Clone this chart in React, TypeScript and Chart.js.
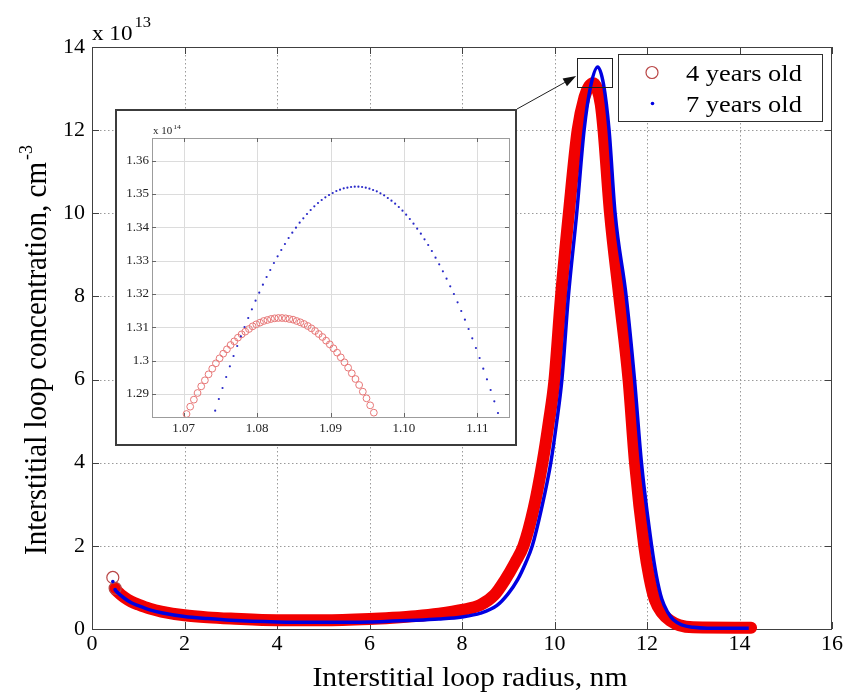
import React, { useEffect, useRef } from 'react';
import { Chart, registerables } from 'chart.js';
Chart.register(...registerables);

// ---------- data (main chart, concentration in units of 1e13 cm^-3) ----------
const xTicks = [0, 2, 4, 6, 8, 10, 12, 14, 16];
const yTicks = [0, 2, 4, 6, 8, 10, 12, 14];

const radius4 = [0.45, 0.50, 0.57, 0.70, 0.85, 1.00, 1.25, 1.50, 2.00, 2.50, 3.00, 4.00, 5.00, 6.00, 6.50, 7.00, 7.50, 8.00, 8.40, 8.70, 8.93, 9.15, 9.33, 9.55, 9.74, 9.88, 10.00, 10.14, 10.31, 10.50, 10.65, 10.75, 10.835, 10.92, 11.00, 11.06, 11.20, 11.40, 11.60, 11.74, 11.94, 12.05, 12.17, 12.33, 12.50, 12.70, 13.00, 14.25];
const conc4 = [1.24, 0.98, 0.88, 0.76, 0.66, 0.59, 0.49, 0.42, 0.33, 0.28, 0.25, 0.21, 0.21, 0.24, 0.27, 0.31, 0.37, 0.46, 0.58, 0.82, 1.18, 1.60, 2.00, 2.90, 4.00, 5.00, 6.00, 8.00, 10.00, 12.00, 12.80, 13.06, 13.13, 13.00, 12.62, 12.00, 10.00, 8.00, 6.00, 4.00, 2.00, 1.25, 0.70, 0.38, 0.20, 0.09, 0.04, 0.03];

const radius7 = [0.45, 0.50, 0.57, 0.70, 0.85, 1.00, 1.25, 1.50, 2.00, 2.50, 3.00, 4.00, 5.00, 6.00, 6.50, 7.00, 7.50, 8.00, 8.40, 8.75, 9.00, 9.20, 9.38, 9.52, 9.72, 9.92, 10.05, 10.16, 10.30, 10.48, 10.64, 10.78, 10.935, 11.06, 11.18, 11.31, 11.55, 11.73, 11.88, 12.10, 12.20, 12.32, 12.45, 12.57, 12.75, 13.00, 13.30, 14.20];
const conc7 = [1.14, 0.95, 0.86, 0.74, 0.63, 0.56, 0.46, 0.39, 0.30, 0.25, 0.21, 0.17, 0.16, 0.17, 0.19, 0.21, 0.24, 0.29, 0.38, 0.56, 0.85, 1.18, 1.60, 2.00, 2.90, 4.00, 5.00, 6.00, 8.00, 10.00, 12.00, 13.05, 13.52, 13.10, 12.00, 10.00, 8.00, 6.00, 4.00, 2.00, 1.30, 0.72, 0.40, 0.22, 0.10, 0.04, 0.02, 0.02];

// ---------- data (inset, radius x10 nm, concentration x1e14) ----------
const insetXTicks = [1.07, 1.08, 1.09, 1.10, 1.11];
const insetYTicks = [1.29, 1.30, 1.31, 1.32, 1.33, 1.34, 1.35, 1.36];

const insetX4 = [1.0704, 1.0709, 1.0714, 1.0719, 1.0724, 1.0729, 1.0734, 1.0739, 1.0744, 1.0749, 1.0754, 1.0759, 1.0764, 1.0769, 1.0774, 1.0779, 1.0784, 1.0789, 1.0794, 1.0799, 1.0804, 1.0809, 1.0814, 1.0819, 1.0824, 1.0829, 1.0834, 1.0839, 1.0844, 1.0849, 1.0854, 1.0859, 1.0864, 1.0869, 1.0874, 1.0879, 1.0884, 1.0889, 1.0894, 1.0899, 1.0904, 1.0909, 1.0914, 1.0919, 1.0924, 1.0929, 1.0934, 1.0939, 1.0944, 1.0949, 1.0954, 1.0959];
const insetY4 = [1.2840, 1.2862, 1.2883, 1.2903, 1.2923, 1.2941, 1.2959, 1.2976, 1.2992, 1.3007, 1.3021, 1.3034, 1.3047, 1.3058, 1.3069, 1.3079, 1.3087, 1.3095, 1.3103, 1.3109, 1.3114, 1.3119, 1.3122, 1.3125, 1.3127, 1.3128, 1.3128, 1.3127, 1.3125, 1.3123, 1.3119, 1.3115, 1.3110, 1.3104, 1.3097, 1.3089, 1.3080, 1.3071, 1.3060, 1.3049, 1.3037, 1.3024, 1.3010, 1.2995, 1.2979, 1.2962, 1.2945, 1.2927, 1.2907, 1.2887, 1.2866, 1.2844];

const insetX7 = [1.0743, 1.0748, 1.0753, 1.0758, 1.0763, 1.0768, 1.0773, 1.0778, 1.0783, 1.0788, 1.0793, 1.0798, 1.0803, 1.0808, 1.0813, 1.0818, 1.0823, 1.0828, 1.0833, 1.0838, 1.0843, 1.0848, 1.0853, 1.0858, 1.0863, 1.0868, 1.0873, 1.0878, 1.0883, 1.0888, 1.0893, 1.0898, 1.0903, 1.0908, 1.0913, 1.0918, 1.0923, 1.0928, 1.0933, 1.0938, 1.0943, 1.0948, 1.0953, 1.0958, 1.0963, 1.0968, 1.0973, 1.0978, 1.0983, 1.0988, 1.0993, 1.0998, 1.1003, 1.1008, 1.1013, 1.1018, 1.1023, 1.1028, 1.1033, 1.1038, 1.1043, 1.1048, 1.1053, 1.1058, 1.1063, 1.1068, 1.1073, 1.1078, 1.1083, 1.1088, 1.1093, 1.1098, 1.1103, 1.1108, 1.1113, 1.1118, 1.1123, 1.1128];
const insetY7 = [1.2850, 1.2885, 1.2918, 1.2951, 1.2983, 1.3014, 1.3044, 1.3073, 1.3101, 1.3128, 1.3154, 1.3180, 1.3204, 1.3228, 1.3251, 1.3272, 1.3293, 1.3313, 1.3332, 1.3350, 1.3368, 1.3384, 1.3399, 1.3414, 1.3427, 1.3440, 1.3452, 1.3463, 1.3473, 1.3482, 1.3490, 1.3497, 1.3503, 1.3509, 1.3513, 1.3517, 1.3519, 1.3521, 1.3522, 1.3522, 1.3521, 1.3519, 1.3516, 1.3512, 1.3508, 1.3502, 1.3496, 1.3488, 1.3480, 1.3471, 1.3461, 1.3450, 1.3438, 1.3425, 1.3411, 1.3396, 1.3381, 1.3364, 1.3347, 1.3329, 1.3309, 1.3289, 1.3268, 1.3246, 1.3223, 1.3200, 1.3175, 1.3149, 1.3123, 1.3095, 1.3067, 1.3038, 1.3008, 1.2976, 1.2944, 1.2912, 1.2878, 1.2843];

const seriesLabels = ['4 years old', '7 years old'];
const xTitle = 'Interstitial loop radius, nm';
const yTitle = 'Interstitial loop concentration, cm';
const yTitleSup = '-3';
const mainExponent = '13';
const insetExponent = '14';

// zoom rectangle around the peak (data coords of main chart)
const zoomBoxX = [10.49, 11.24];
const zoomBoxY = [13.04, 13.74];
const arrowTip = [10.49, 13.3];

// ---------- styles / layout ----------
const RED = 'rgb(242,0,0)';
const RED_EDGE = 'rgb(185,70,70)';
const BLUE = 'rgb(0,0,225)';
const SERIF = '"Liberation Serif", "Times New Roman", serif';
const INSET = { left: 115, top: 109, width: 402, height: 337 };
const SX = 1.1; // horizontal text stretch seen in the picture

function stext(ctx: CanvasRenderingContext2D, text: string, x: number, y: number, font: string, align: string, sx = SX) {
  ctx.save();
  ctx.font = font;
  ctx.textAlign = 'left';
  ctx.textBaseline = 'alphabetic';
  const w = ctx.measureText(text).width * sx;
  const x0 = align === 'center' ? x - w / 2 : align === 'right' ? x - w : x;
  ctx.translate(x0, y);
  ctx.scale(sx, 1);
  ctx.fillText(text, 0, 0);
  ctx.restore();
  return w;
}

const mainDecor = {
  id: 'mainDecor',
  beforeDatasetsDraw(chart: any) {
    const { ctx, chartArea: a, scales } = chart;
    const x = scales.x, y = scales.y;
    ctx.save();
    ctx.strokeStyle = '#9a9a9a';
    ctx.lineWidth = 1;
    ctx.setLineDash([1.5, 2.5]);
    for (const v of xTicks) {
      if (v <= x.min || v >= x.max) continue;
      const px = Math.round(x.getPixelForValue(v)) + 0.5;
      ctx.beginPath(); ctx.moveTo(px, a.top); ctx.lineTo(px, a.bottom); ctx.stroke();
    }
    for (const v of yTicks) {
      if (v <= y.min || v >= y.max) continue;
      const py = Math.round(y.getPixelForValue(v)) + 0.5;
      ctx.beginPath(); ctx.moveTo(a.left, py); ctx.lineTo(a.right, py); ctx.stroke();
    }
    ctx.setLineDash([]);
    ctx.strokeStyle = '#404040';
    ctx.lineWidth = 1;
    ctx.strokeRect(Math.round(a.left) + 0.5, Math.round(a.top) + 0.5, Math.round(a.width) - 1, Math.round(a.height));
    const tl = 7;
    ctx.beginPath();
    for (const v of xTicks) {
      const px = Math.round(x.getPixelForValue(v)) + 0.5;
      ctx.moveTo(px, a.bottom); ctx.lineTo(px, a.bottom - tl);
      ctx.moveTo(px, a.top); ctx.lineTo(px, a.top + tl);
    }
    for (const v of yTicks) {
      const py = Math.round(y.getPixelForValue(v)) + 0.5;
      ctx.moveTo(a.left, py); ctx.lineTo(a.left + tl, py);
      ctx.moveTo(a.right, py); ctx.lineTo(a.right - tl, py);
    }
    ctx.stroke();
    ctx.restore();
  },
  afterDraw(chart: any) {
    const { ctx, chartArea: a, scales } = chart;
    const x = scales.x, y = scales.y;
    ctx.save();
    ctx.fillStyle = '#000';
    // exponent label
    const w = stext(ctx, 'x 10', a.left, 40, `21px ${SERIF}`, 'left');
    stext(ctx, mainExponent, a.left + w + 2, 27, `15px ${SERIF}`, 'left');
    // x title
    stext(ctx, xTitle, 470, 686, `27px ${SERIF}`, 'center');
    // y title (rotated)
    ctx.save();
    ctx.font = `29px ${SERIF}`;
    const tw = ctx.measureText(yTitle).width;
    ctx.font = `18px ${SERIF}`;
    const sw = ctx.measureText(yTitleSup).width;
    const total = tw + sw + 2;
    ctx.translate(46, 350);
    ctx.scale(SX, 1);
    ctx.rotate(-Math.PI / 2);
    ctx.textAlign = 'left';
    ctx.textBaseline = 'alphabetic';
    ctx.font = `29px ${SERIF}`;
    ctx.fillText(yTitle, -total / 2, 0);
    ctx.font = `18px ${SERIF}`;
    ctx.fillText(yTitleSup, -total / 2 + tw + 2, -13);
    ctx.restore();

    // zoom rectangle
    const rx0 = x.getPixelForValue(zoomBoxX[0]);
    const rx1 = x.getPixelForValue(zoomBoxX[1]);
    const ry0 = y.getPixelForValue(zoomBoxY[1]);
    const ry1 = y.getPixelForValue(zoomBoxY[0]);
    ctx.strokeStyle = '#202020';
    ctx.lineWidth = 1;
    ctx.strokeRect(Math.round(rx0) + 0.5, Math.round(ry0) + 0.5, Math.round(rx1 - rx0), Math.round(ry1 - ry0));

    // arrow from inset corner to zoom box
    const sx0 = INSET.left + INSET.width, sy0 = INSET.top;
    const tx = x.getPixelForValue(arrowTip[0]) - 1, ty = y.getPixelForValue(arrowTip[1]);
    const ang = Math.atan2(ty - sy0, tx - sx0);
    const hl = 13, hw = 4.5;
    const bx = tx - hl * Math.cos(ang), by = ty - hl * Math.sin(ang);
    ctx.beginPath();
    ctx.moveTo(sx0, sy0); ctx.lineTo(bx, by); ctx.stroke();
    ctx.beginPath();
    ctx.moveTo(tx, ty);
    ctx.lineTo(bx + hw * Math.sin(ang), by - hw * Math.cos(ang));
    ctx.lineTo(bx - hw * Math.sin(ang), by + hw * Math.cos(ang));
    ctx.closePath();
    ctx.fillStyle = '#101010';
    ctx.fill();

    // legend
    const L = { x: 618, y: 54, w: 204, h: 67 };
    ctx.fillStyle = '#fff';
    ctx.fillRect(L.x, L.y, L.w, L.h);
    ctx.strokeStyle = '#303030';
    ctx.strokeRect(L.x + 0.5, L.y + 0.5, L.w, L.h);
    ctx.beginPath();
    ctx.arc(652, 72.5, 6, 0, Math.PI * 2);
    ctx.strokeStyle = RED_EDGE;
    ctx.lineWidth = 1.2;
    ctx.stroke();
    ctx.beginPath();
    ctx.arc(652.5, 103.5, 1.8, 0, Math.PI * 2);
    ctx.fillStyle = BLUE;
    ctx.fill();
    ctx.fillStyle = '#000';
    stext(ctx, seriesLabels[0], 686, 81, `24px ${SERIF}`, 'left');
    stext(ctx, seriesLabels[1], 686, 112, `24px ${SERIF}`, 'left');
    ctx.restore();
  },
};

function MainChart() {
  const ref = useRef<HTMLCanvasElement | null>(null);
  useEffect(() => {
    if (!ref.current) return;
    const chart = new Chart(ref.current, {
      type: 'line',
      data: {
        datasets: [
          {
            label: seriesLabels[1],
            data: radius7.map((v, i) => ({ x: v, y: conc7[i] })),
            borderColor: BLUE,
            borderWidth: 3.5,
            pointRadius: (c: any) => (c.dataIndex < 2 ? 1.8 : 0),
            pointBackgroundColor: BLUE,
            pointBorderWidth: 0,
            segment: { borderColor: (c: any) => (c.p0DataIndex === 0 ? 'rgba(0,0,0,0)' : BLUE) },
            cubicInterpolationMode: 'monotone',
            clip: 10,
            order: 0,
          },
          {
            label: seriesLabels[0],
            data: radius4.map((v, i) => ({ x: v, y: conc4[i] })),
            borderColor: RED,
            borderWidth: 12,
            borderCapStyle: 'round',
            borderJoinStyle: 'round',
            pointRadius: (c: any) => (c.dataIndex < 2 ? 6 : 0),
            pointBorderColor: RED_EDGE,
            pointBorderWidth: 1.2,
            pointBackgroundColor: 'rgba(255,255,255,0)',
            segment: { borderColor: (c: any) => (c.p0DataIndex === 0 ? 'rgba(0,0,0,0)' : RED) },
            cubicInterpolationMode: 'monotone',
            clip: 10,
            order: 1,
          },
        ],
      },
      options: {
        animation: false,
        responsive: false,
        events: [],
        layout: { padding: { top: 47, right: 16, left: 0, bottom: 0 } },
        plugins: { legend: { display: false }, tooltip: { enabled: false } },
        scales: {
          x: {
            type: 'linear', min: 0, max: 16,
            afterBuildTicks: (s: any) => { s.ticks = xTicks.map((v) => ({ value: v })); },
            afterFit: (s: any) => { s.height = 68; },
            grid: { display: false, drawTicks: false },
            border: { display: false },
            ticks: { font: { family: SERIF, size: 22 }, color: '#000', padding: 2, maxRotation: 0, autoSkip: false, callback: (v: any) => String(v) },
          },
          y: {
            type: 'linear', min: 0, max: 14,
            afterBuildTicks: (s: any) => { s.ticks = yTicks.map((v) => ({ value: v })); },
            afterFit: (s: any) => { s.width = 92; },
            grid: { display: false, drawTicks: false },
            border: { display: false },
            ticks: { font: { family: SERIF, size: 22 }, color: '#000', padding: 7, autoSkip: false, callback: (v: any) => String(v) },
          },
        },
      } as any,
      plugins: [mainDecor],
    } as any);
    return () => chart.destroy();
  }, []);
  return <canvas ref={ref} width={848} height={697} style={{ position: 'absolute', left: 0, top: 0, width: 848, height: 697 }} />;
}

const insetDecor = {
  id: 'insetDecor',
  beforeDraw(chart: any) {
    const { ctx, width, height } = chart;
    ctx.save();
    ctx.fillStyle = '#fff';
    ctx.fillRect(0, 0, width, height);
    ctx.restore();
  },
  beforeDatasetsDraw(chart: any) {
    const { ctx, chartArea: a, scales } = chart;
    const x = scales.x, y = scales.y;
    ctx.save();
    ctx.strokeStyle = '#dcdcdc';
    ctx.lineWidth = 1;
    for (const v of insetXTicks) {
      const px = Math.round(x.getPixelForValue(v)) + 0.5;
      ctx.beginPath(); ctx.moveTo(px, a.top); ctx.lineTo(px, a.bottom); ctx.stroke();
    }
    for (const v of insetYTicks) {
      const py = Math.round(y.getPixelForValue(v)) + 0.5;
      ctx.beginPath(); ctx.moveTo(a.left, py); ctx.lineTo(a.right, py); ctx.stroke();
    }
    ctx.strokeStyle = '#9c9c9c';
    ctx.strokeRect(Math.round(a.left) + 0.5, Math.round(a.top) + 0.5, Math.round(a.width), Math.round(a.height));
    ctx.strokeStyle = '#666';
    const tl = 4;
    ctx.beginPath();
    for (const v of insetXTicks) {
      const px = Math.round(x.getPixelForValue(v)) + 0.5;
      ctx.moveTo(px, a.bottom); ctx.lineTo(px, a.bottom - tl);
      ctx.moveTo(px, a.top); ctx.lineTo(px, a.top + tl);
    }
    for (const v of insetYTicks) {
      const py = Math.round(y.getPixelForValue(v)) + 0.5;
      ctx.moveTo(a.left, py); ctx.lineTo(a.left + tl, py);
      ctx.moveTo(a.right, py); ctx.lineTo(a.right - tl, py);
    }
    ctx.stroke();
    ctx.restore();
  },
  afterDraw(chart: any) {
    const { ctx, chartArea: a, width, height } = chart;
    ctx.save();
    ctx.fillStyle = '#222';
    const w = stext(ctx, 'x 10', a.left + 1, a.top - 4, `10px ${SERIF}`, 'left');
    stext(ctx, insetExponent, a.left + 1 + w + 1, a.top - 9, `7px ${SERIF}`, 'left');
    ctx.strokeStyle = '#3c3c3c';
    ctx.lineWidth = 2;
    ctx.strokeRect(1, 1, width - 2, height - 2);
    ctx.restore();
  },
};

function InsetChart() {
  const ref = useRef<HTMLCanvasElement | null>(null);
  useEffect(() => {
    if (!ref.current) return;
    const chart = new Chart(ref.current, {
      type: 'scatter',
      data: {
        datasets: [
          {
            label: seriesLabels[1],
            data: insetX7.map((v, i) => ({ x: v, y: insetY7[i] })),
            showLine: false,
            pointRadius: 1.1,
            pointBorderWidth: 0,
            pointBackgroundColor: 'rgb(40,40,200)',
            order: 0,
          },
          {
            label: seriesLabels[0],
            data: insetX4.map((v, i) => ({ x: v, y: insetY4[i] })),
            showLine: false,
            pointRadius: 3.4,
            pointBorderWidth: 1,
            pointBorderColor: 'rgb(232,120,120)',
            pointBackgroundColor: 'rgba(255,255,255,0)',
            order: 1,
          },
        ],
      },
      options: {
        animation: false,
        responsive: false,
        events: [],
        layout: { padding: { top: 29, right: 8, left: 0, bottom: 0 } },
        plugins: { legend: { display: false }, tooltip: { enabled: false } },
        scales: {
          x: {
            type: 'linear', min: 1.0657, max: 1.1143,
            afterBuildTicks: (s: any) => { s.ticks = insetXTicks.map((v) => ({ value: v })); },
            afterFit: (s: any) => { s.height = 29; },
            grid: { display: false, drawTicks: false },
            border: { display: false },
            ticks: { font: { family: SERIF, size: 13 }, color: '#222', padding: 4, maxRotation: 0, autoSkip: false, callback: (v: any) => Number(v).toFixed(2) },
          },
          y: {
            type: 'linear', min: 1.2831, max: 1.3668,
            afterBuildTicks: (s: any) => { s.ticks = insetYTicks.map((v) => ({ value: v })); },
            afterFit: (s: any) => { s.width = 37; },
            grid: { display: false, drawTicks: false },
            border: { display: false },
            ticks: { font: { family: SERIF, size: 13 }, color: '#222', padding: 3, autoSkip: false, callback: (v: any) => String(Number(Number(v).toFixed(2))) },
          },
        },
      } as any,
      plugins: [insetDecor],
    } as any);
    return () => chart.destroy();
  }, []);
  return (
    <canvas
      ref={ref}
      width={INSET.width}
      height={INSET.height}
      style={{ position: 'absolute', left: INSET.left, top: INSET.top, width: INSET.width, height: INSET.height }}
    />
  );
}

export default function App() {
  return (
    <div style={{ position: 'fixed', left: 0, top: 0, width: 848, height: 697, background: '#fff', overflow: 'hidden' }}>
      <MainChart />
      <InsetChart />
    </div>
  );
}
